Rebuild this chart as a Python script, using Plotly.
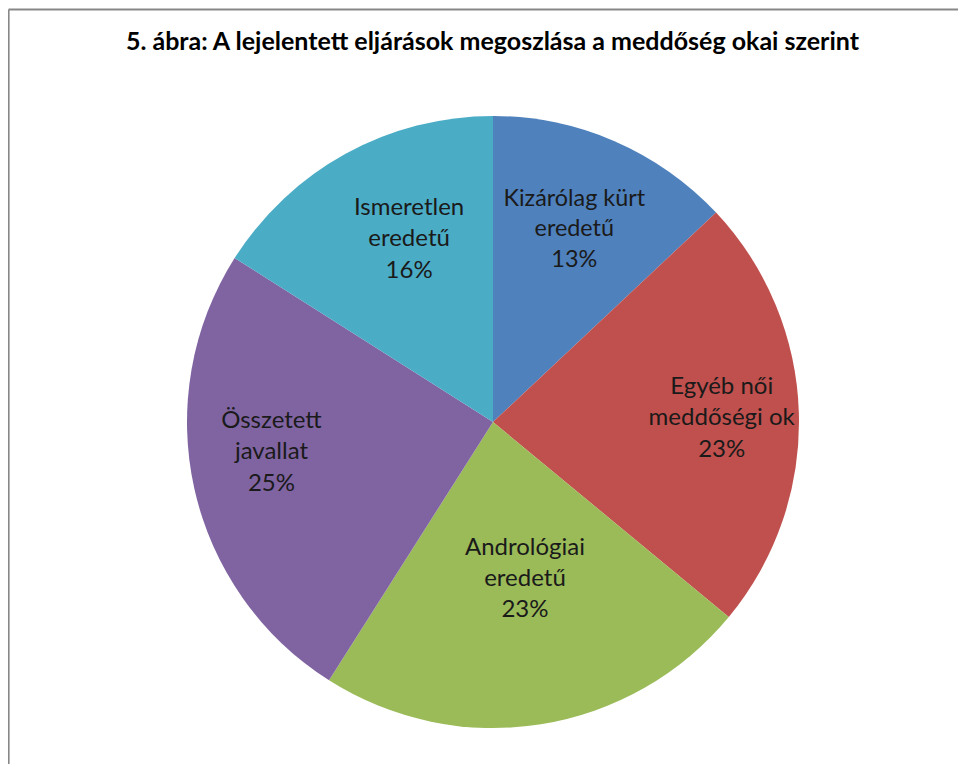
import plotly.graph_objects as go

categories = ["Kizárólag kürt eredetű", "Egyéb női meddőségi ok", "Andrológiai eredetű",
              "Összetett javallat", "Ismeretlen eredetű"]
label_lines = ["Kizárólag kürt<br>eredetű", "Egyéb női<br>meddőségi ok", "Andrológiai<br>eredetű",
               "Összetett<br>javallat", "Ismeretlen<br>eredetű"]
values = [13, 23, 23, 25, 16]
colors = ["#4F81BD", "#C0504D", "#9BBB59", "#8064A2", "#4BACC6"]
title = "5. ábra: A lejelentett eljárások megoszlása a meddőség okai szerint"

# page body has an 8px margin; figure sized to fit inside the window
W, H = 958, 756
off = 8
cx, cy, r = 493 - off, 422 - off, 306
cy_b = H - cy  # centre measured from the bottom of the paper

FONT = dict(family="Lato", size=24, color="#1a1a1a")


def dom(rad):
    return dict(x=[(cx - rad) / W, (cx + rad) / W], y=[(cy_b - rad) / H, (cy_b + rad) / H])


def pie(rad, hole, show_idx, fill, rot=0):
    return go.Pie(
        labels=categories,
        values=values,
        text=label_lines,
        texttemplate="%{text}<br>%{percent:.0%}",
        textinfo="text",
        textposition=["inside" if i in show_idx else "none" for i in range(len(values))],
        insidetextorientation="horizontal",
        sort=False,
        direction="clockwise",
        rotation=rot,
        hole=hole,
        marker=dict(colors=colors if fill else ["rgba(0,0,0,0)"] * len(values), line=dict(width=0)),
        textfont=FONT,
        showlegend=False,
        hoverinfo="label+percent" if fill else "skip",
        domain=dom(rad),
    )


fig = go.Figure([
    pie(r, 0, set(), True),              # coloured pie
    # transparent helpers that only place the slice labels
    pie(295, 0, {0}, False, -0.7),
    pie(342, 0.34, {1}, False, 0.3),
    pie(262, 0, {2}, False, -2.7),
    pie(342, 0.304, {3}, False, 5.4),
    pie(301, 0, {4}, False, 4.4),
])

fig.update_layout(
    width=W, height=H,
    margin=dict(l=0, r=0, t=0, b=0),
    paper_bgcolor="white",
    plot_bgcolor="white",
    title=dict(text="<b>" + title + "</b>", x=(492.5 - off) / W, xanchor="center",
               y=1 - (41 - off) / H, yanchor="middle",
               font=dict(family="Lato", size=25, color="#000000")),
    shapes=[
        dict(type="line", xref="paper", yref="paper", x0=0.6 / W, x1=1, y0=1 - 1.6 / H, y1=1 - 1.6 / H,
             line=dict(color="#878787", width=2)),
        dict(type="line", xref="paper", yref="paper", x0=0.6 / W, x1=0.6 / W, y0=1 - 1.6 / H, y1=0,
             line=dict(color="#878787", width=2)),
    ],
)

fig.write_html("out.html")
